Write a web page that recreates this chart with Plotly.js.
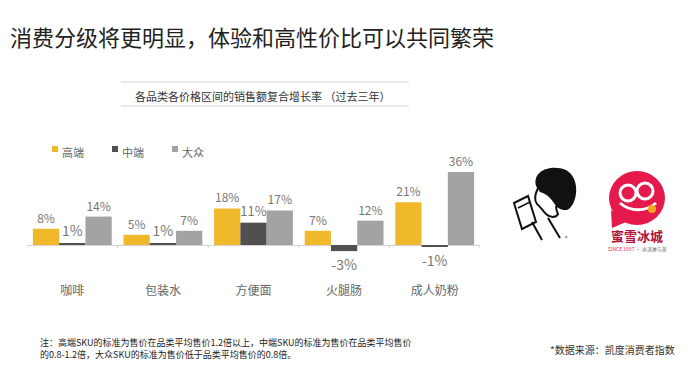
<!DOCTYPE html>
<html><head><meta charset="utf-8">
<script src="https://cdn.plot.ly/plotly-3.0.1.min.js"></script>
<style>html,body{margin:0;padding:0;background:#fff}#chart{width:700px;height:366px}</style>
</head><body><div id="chart"></div>
<script>
const categories = ['咖啡','包装水','方便面','火腿肠','成人奶粉'];
const seriesNames = ['高端','中端','大众'];
const highValues = [8,5,18,7,21];
const midValues = [1,1,11,-3,-1];
const massValues = [14,7,17,12,36];
const colors = ['#F0B92C','#505050','#A3A3A3'];

const W=700,H=366,ML=27,MR=220,MT=150,MB=86;
const PW=W-ML-MR, PH=H-MT-MB;
const X=px=>(px-ML)/PW, Y=py=>(H-MB-py)/PH;
const FONT='"Noto Sans CJK SC", "Noto Sans", sans-serif';

function mk(name, vals, color, tsize){
  return {type:'bar', name, x:categories, y:vals, marker:{color},
    text:vals.map(v=>v+'%'), texttemplate:'%{text}', textposition:'outside', cliponaxis:false,
    textfont:{family:FONT,size:tsize,color:'#777'}, hoverinfo:'skip'};
}
const data=[mk(seriesNames[0],highValues,colors[0],12),
            mk(seriesNames[1],midValues,colors[1],14),
            mk(seriesNames[2],massValues,colors[2],12)];

const shapes=[], annotations=[];
function rect(x0,y0,x1,y1,fill,line){shapes.push({type:'rect',xref:'paper',yref:'paper',x0:X(x0),x1:X(x1),y0:Y(y1),y1:Y(y0),fillcolor:fill,line:line||{width:0}});}
function circ(cx,cy,rx,ry,fill,line){shapes.push({type:'circle',xref:'paper',yref:'paper',x0:X(cx-rx),x1:X(cx+rx),y0:Y(cy+ry),y1:Y(cy-ry),fillcolor:fill,line:line||{width:0}});}
function path(pts,fill,line,close){
  let d='M'+pts.map(p=>X(p[0])+','+Y(p[1])).join(' L')+(close?' Z':'');
  shapes.push({type:'path',xref:'paper',yref:'paper',path:d,fillcolor:fill||'rgba(0,0,0,0)',line:line||{width:0}});
}
function pathC(d,fill,line){
  const t=d.split(/\s+/); let out=[];
  for(let i=0;i<t.length;){ if(/[A-Za-z]/.test(t[i])){out.push(t[i]);i++;} else {out.push(X(+t[i])+','+Y(+t[i+1]));i+=2;} }
  shapes.push({type:'path',xref:'paper',yref:'paper',path:out.join(' '),fillcolor:fill||'rgba(0,0,0,0)',line:line||{width:0}});
}
function text(px,py,s,size,color,anchor,extra){annotations.push(Object.assign({xref:'paper',yref:'paper',x:X(px),y:Y(py),text:s,showarrow:false,xanchor:anchor||'left',yanchor:'middle',font:{family:FONT,size,color}},extra||{}));}

// subtitle rules + subtitle
shapes.push({type:'line',xref:'paper',yref:'paper',x0:X(121),x1:X(409),y0:Y(82),y1:Y(82),line:{color:'#d4d4d4',width:1}});
shapes.push({type:'line',xref:'paper',yref:'paper',x0:X(121),x1:X(409),y0:Y(106),y1:Y(106),line:{color:'#d4d4d4',width:1}});
text(262,96,'各品类各价格区间的销售额复合增长率 （过去三年）',11,'#333','center');

// legend
seriesNames.forEach((n,i)=>{const x0=52+i*60; rect(x0,146,x0+6,152,colors[i]); text(x0+8,152,n,11,'#666','left');});

// boundary ticks on baseline
for(let i=0;i<=categories.length;i++){
  shapes.push({type:'line',xref:'x',yref:'paper',x0:i-0.5,x1:i-0.5,y0:Y(245),y1:Y(248),line:{color:'#d0d0d0',width:1}});
}

// footnote + source
text(38,348,'注：高端SKU的标准为售价在品类平均售价1.2倍以上，中端SKU的标准为售价在品类平均售价<br>的0.8-1.2倍，大众SKU的标准为售价低于品类平均售价的0.8倍。',9,'#222','left',{align:'left'});
text(548,349,'*数据来源：凯度消费者指数',10,'#333','left');

// Logo 1: man drinking (rough)
const blk={color:'#111',width:2};
pathC('M 536 186 C 532 170 552 164 566 170 C 580 178 578 200 570 208 C 566 212 560 210 556 206 C 552 200 548 194 540 192 Z','#111',{width:0});
pathC('M 538 188 C 535 194 534 200 537 204 C 540 206 542 210 546 214 C 550 218 556 218 558 214 C 556 210 556 206 556 206',null,blk);
path([[514,203],[528,196],[536,222],[522,229]],'#fff',blk,true);
path([[518,208],[530,202]],null,{color:'#111',width:1.5});
path([[548,218],[560,238]],null,blk);
path([[532,222],[542,240]],null,blk);
text(566,237,'®',5,'#111','center');

// Logo 2: Mixue (rough)
const red='#E5194B';
circ(637,198,28,27,red);
path([[611,210],[612,228],[626,222]],red,{width:0},true);
circ(628,193,8,8,'rgba(0,0,0,0)',{color:'#fff',width:3});
circ(645,191,8,8,'rgba(0,0,0,0)',{color:'#fff',width:3});
pathC('M 620 203 C 630 212 646 212 656 203',null,{color:'#fff',width:3});
circ(652,209,4,4,'#F5A623');
text(637,235,'<b>蜜雪冰城</b>',13,'#B0103A','center');
text(637,249,'<span style="color:#E5194B">SINCE 1997</span> · 冰淇淋与茶',5,'#666','center');

const layout={
  width:W,height:H,margin:{l:ML,r:MR,t:MT,b:MB},
  paper_bgcolor:'#fff',plot_bgcolor:'rgba(0,0,0,0)',
  font:{family:FONT},
  title:{text:'消费分级将更明显，体验和高性价比可以共同繁荣',xref:'container',yref:'container',x:10/W,xanchor:'left',y:1-38/H,yanchor:'middle',font:{family:FONT,size:22,color:'#222'}},
  barmode:'group',bargap:0.13,bargroupgap:0,showlegend:false,
  xaxis:{range:[-0.5,4.5],showline:false,showgrid:false,ticks:'',ticklabelstandoff:2,tickfont:{family:FONT,size:12,color:'#666'},fixedrange:true},
  yaxis:{range:[-(280-245)/2.03,(245-MT)/2.03],showgrid:false,showticklabels:false,zeroline:true,zerolinecolor:'#d4d4d4',zerolinewidth:1,fixedrange:true},
  shapes,annotations
};
Plotly.newPlot('chart',data,layout,{staticPlot:true});
</script></body></html>
